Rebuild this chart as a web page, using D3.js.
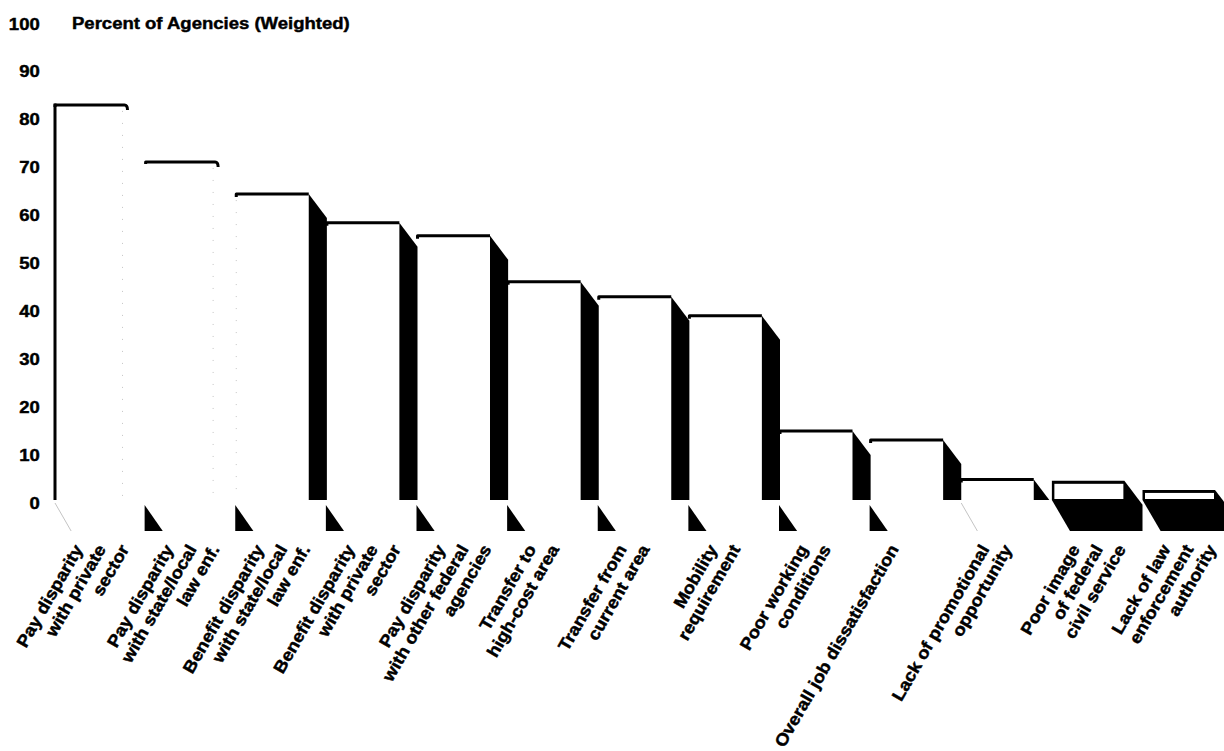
<!DOCTYPE html>
<html>
<head>
<meta charset="utf-8">
<script src="https://cdn.jsdelivr.net/npm/d3@7"></script>
<style>
  html, body { margin: 0; padding: 0; background: #fff; }
  svg { display: block; }
  text { font-family: "Liberation Sans", Arial, Helvetica, sans-serif; font-weight: bold; fill: #000;
         stroke: #000; stroke-width: 0.45px; }
</style>
</head>
<body>
<svg id="chart" width="1224" height="751"></svg>
<script>
// Reasons given for separations, percent of agencies (weighted)
const categoryLines = [
  ["Pay disparity", "with private", "sector"],
  ["Pay disparity", "with state/local", "law enf."],
  ["Benefit disparity", "with state/local", "law enf."],
  ["Benefit disparity", "with private", "sector"],
  ["Pay disparity", "with other federal", "agencies"],
  ["Transfer to", "high-cost area"],
  ["Transfer from", "current area"],
  ["Mobility", "requirement"],
  ["Poor working", "conditions"],
  ["Overall job dissatisfaction"],
  ["Lack of promotional", "opportunity"],
  ["Poor image", "of federal", "civil service"],
  ["Lack of law", "enforcement", "authority"]
];
const categories = categoryLines.map(l => l.join(" "));
const values = [82.4, 70.5, 63.8, 57.8, 55.1, 45.5, 42.4, 38.4, 14.4, 12.5, 4.3, 4.0, 2.1];
const tickValues = [0, 10, 20, 30, 40, 50, 60, 70, 80, 90, 100];
const axisTitle = "Percent of Agencies (Weighted)";

const svg = d3.select("#chart");
const x = d3.scaleBand().domain(categories).range([55, 1215]).paddingInner(0.2).paddingOuter(0);
const y = d3.scaleLinear().domain([0, 100]).range([500, 20.5]);

const base = y(0);
const depthX = x.step() - x.bandwidth();   // side face fills the gap to the next bar
const depthY = 24;                          // slant of the side face
const floorY = base + 31;                   // lower edge of the floor faces
const stretch = 1.09;                       // wide bold lettering

const bars = categories.map((c, i) => ({
  name: c, i, v: values[i],
  L: x(c), R: x(c) + x.bandwidth(), T: y(values[i])
}));

const gFaint = svg.append("g").attr("stroke", "#c4c4c4").attr("fill", "none");
const gBars = svg.append("g");

// faint construction traces of the first bars
bars.filter(b => b.i < 2).forEach(b => {
  gFaint.append("line")
    .attr("x1", b.R - 5).attr("x2", b.R - 5)
    .attr("y1", b.T + 6).attr("y2", base)
    .attr("stroke-width", 1).attr("stroke-dasharray", "1 11");
});
bars.filter(b => b.i === 2).forEach(b => {
  gFaint.append("line")
    .attr("x1", b.L).attr("x2", b.L)
    .attr("y1", b.T + 6).attr("y2", base)
    .attr("stroke-width", 1).attr("stroke-dasharray", "1 11");
});
bars.filter(b => b.i === 0 || b.i === 10).forEach(b => {
  gFaint.append("line")
    .attr("x1", b.L).attr("y1", base + 3)
    .attr("x2", b.L + depthX - 2).attr("y2", floorY)
    .attr("stroke-width", 1);
});

// side faces (clipped at the floor)
bars.filter(b => b.i >= 2 && b.i <= 10).forEach(b => {
  let pts;
  if (b.T + depthY <= base) {
    pts = [[b.R, b.T], [b.R + depthX, b.T + depthY], [b.R + depthX, base], [b.R, base]];
  } else {
    const run = depthX * (base - b.T) / depthY;
    pts = [[b.R, b.T], [b.R + run, base], [b.R, base]];
  }
  gBars.append("polygon").attr("points", pts.map(p => p.join(",")).join(" ")).attr("fill", "#000");
});

// small floor wedges under the left edge of the middle bars
bars.filter(b => b.i >= 1 && b.i <= 9).forEach(b => {
  const pts = [[b.L - 1, base + 5], [b.L - 1, floorY], [b.L + depthX - 1, floorY]];
  gBars.append("polygon").attr("points", pts.map(p => p.join(",")).join(" ")).attr("fill", "#000");
});

// the two shortest bars: full block with floor, white front window
bars.filter(b => b.i >= 11).forEach(b => {
  const pts = [
    [b.L, b.T], [b.R, b.T], [b.R + depthX, b.T + depthY],
    [b.R + depthX, floorY], [b.L + depthX, floorY], [b.L, base]
  ];
  gBars.append("polygon").attr("points", pts.map(p => p.join(",")).join(" ")).attr("fill", "#000");
  gBars.append("rect")
    .attr("x", b.L + 2.5).attr("y", b.T + 3)
    .attr("width", b.R - b.L - 3.5).attr("height", base - 1 - (b.T + 3))
    .attr("fill", "#fff");
});

// top edges of the front faces
bars.filter(b => b.i <= 10).forEach(b => {
  let d;
  if (b.i < 2) {
    d = `M${b.L},${b.T + 2}V${b.T}H${b.R - 3}Q${b.R},${b.T} ${b.R},${b.T + 5}`;
  } else {
    d = `M${b.L},${b.T + 3}V${b.T}H${b.R}`;
  }
  gBars.append("path").attr("d", d)
    .attr("fill", "none").attr("stroke", "#000").attr("stroke-width", 3)
    .attr("stroke-linejoin", "round");
});

// left edge of the first bar
gBars.append("line")
  .attr("x1", bars[0].L).attr("x2", bars[0].L)
  .attr("y1", bars[0].T - 1.5).attr("y2", base)
  .attr("stroke", "#000").attr("stroke-width", 3);

// value axis
const yAxis = d3.axisLeft(y).tickValues(tickValues).tickSize(0).tickPadding(3).tickFormat(d3.format("d"));
const gy = svg.append("g").attr("transform", "translate(43,0)").call(yAxis);
gy.select(".domain").remove();
gy.attr("font-family", null).attr("font-size", 17);
gy.selectAll(".tick text")
  .attr("dy", "0.5em")
  .attr("fill", "#000")
  .attr("transform", `scale(${stretch},1)`);

// axis title beside the top tick
svg.append("text")
  .attr("transform", `translate(72,${y(100) + 8.3}) scale(${stretch},1)`)
  .attr("font-size", 17)
  .text(axisTitle);

// slanted category labels
const gLab = svg.append("g");
bars.forEach(b => {
  categoryLines[b.i].forEach((line, k) => {
    gLab.append("text")
      .attr("transform", `translate(${b.R - 44 + 23 * k},549) rotate(-60) scale(${stretch},1)`)
      .attr("text-anchor", "end")
      .attr("font-size", 17)
      .text(line);
  });
});
</script>
</body>
</html>
